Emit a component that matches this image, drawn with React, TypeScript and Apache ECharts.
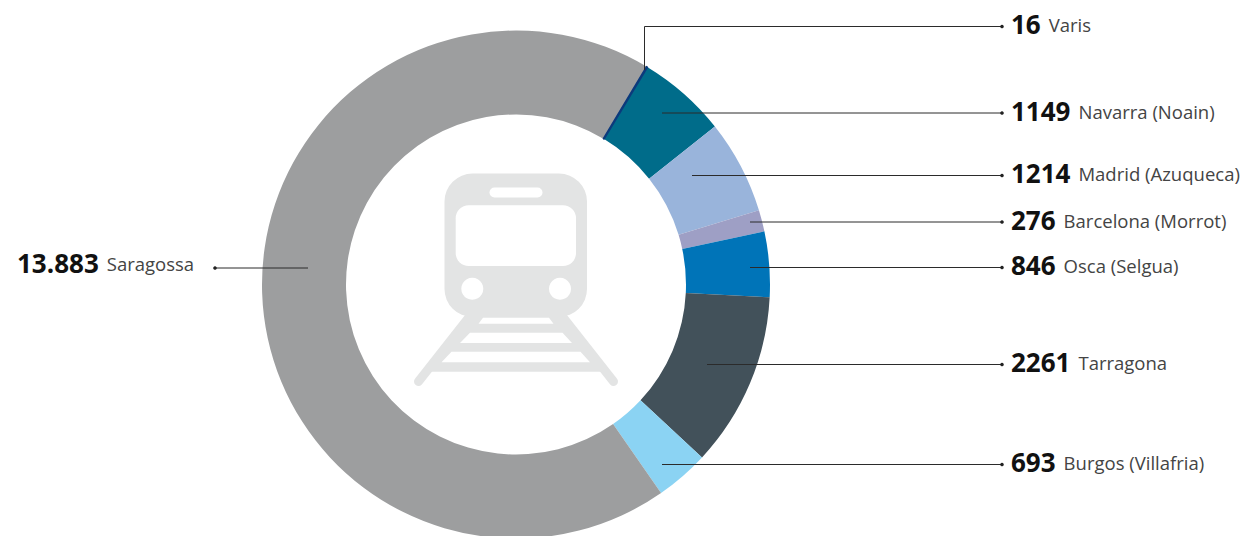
import React, { useEffect, useRef } from "react";
import * as echarts from "echarts";

const names = ["Navarra (Noain)", "Madrid (Azuqueca)", "Barcelona (Morrot)", "Osca (Selgua)", "Tarragona", "Burgos (Villafria)", "Saragossa", "Varis"];
const values = [1149, 1214, 276, 846, 2261, 693, 13883, 16];
const valueLabels = ["1149", "1214", "276", "846", "2261", "693", "13.883", "16"];
const colors = ["#006c8a", "#99b4db", "#9e9fc5", "#0074b8", "#42515a", "#8bd3f3", "#9d9e9f", "#0b3a7c"];

const labelX = [1011, 1011, 1011, 1011, 1011, 1011, 17, 1011];
const labelY = [111, 173, 220, 265, 362, 462, 263, 24];
const leaders: number[][][] = [
  [[662, 113], [1002, 113]],
  [[692, 175.5], [1002, 175.5]],
  [[750, 222], [1002, 222]],
  [[750, 267.5], [1002, 267.5]],
  [[707, 364.5], [1002, 364.5]],
  [[662, 464.5], [1002, 464.5]],
  [[308, 268], [215, 268]],
  [[644.5, 70], [644.5, 26.5], [1002, 26.5]],
];

const GREY = "#e3e4e4";
const FONT = '"Open Sans", "Noto Sans", sans-serif';

export default function App() {
  const ref = useRef<HTMLDivElement>(null);
  useEffect(() => {
    document.body.style.margin = "0";
    const chart = echarts.init(ref.current!, null, { renderer: "svg" });
    const gap = (pts: number[][]) => ({
      type: "polygon",
      silent: true,
      shape: { points: pts },
      style: { fill: "#fff" },
    });
    const rail = (x1: number, x2: number) => ({
      type: "line",
      silent: true,
      shape: { x1, y1: 316, x2, y2: 381.5 },
      style: { stroke: GREY, lineWidth: 9, lineCap: "round" },
    });
    chart.setOption({
      animation: false,
      backgroundColor: "#fff",
      series: [
        {
          type: "pie",
          center: [516, 284.5],
          radius: [170, 254],
          startAngle: 58.8,
          clockwise: true,
          silent: true,
          avoidLabelOverlap: false,
          percentPrecision: 4,
          data: names.map((name, i) => ({
            name,
            value: values[i],
            itemStyle: {
              color: colors[i],
              borderColor: name === "Varis" ? colors[i] : "transparent",
              borderWidth: name === "Varis" ? 1.4 : 0,
            },
          })),
          label: {
            show: true,
            position: "outside",
            fontFamily: FONT,
            formatter: (p: any) => `{v|${valueLabels[p.dataIndex]}}{n|${p.name}}`,
            rich: {
              v: { fontFamily: FONT, fontSize: 26, fontWeight: 700, color: "#111", lineHeight: 32, verticalAlign: "middle" },
              n: { fontFamily: FONT, fontSize: 18.5, color: "#444", lineHeight: 24, verticalAlign: "middle", padding: [0, 0, 0, 8] },
            },
          },
          labelLine: { show: false },
          labelLayout: (p: any) => ({
            x: labelX[p.dataIndex],
            y: labelY[p.dataIndex],
            align: "left",
            verticalAlign: "middle",
          }),
        },
      ],
      graphic: [
        {
          type: "group",
          silent: true,
          z: 10,
          children: [
            { type: "polygon", shape: { points: [[469, 316], [563, 316], [603, 371.7], [429, 371.7]] }, style: { fill: GREY } },
            rail(470, 418.5),
            rail(562, 613.5),
            gap([[483, 317.7], [549, 317.7], [553.5, 323.7], [478.5, 323.7]]),
            gap([[470, 332.7], [562.5, 332.7], [572, 343], [460, 343]]),
            gap([[451.5, 351.7], [580.5, 351.7], [590, 362.3], [441.5, 362.3]]),
            { type: "rect", shape: { x: 444.5, y: 173.5, width: 142.5, height: 143.5, r: 28 }, style: { fill: GREY } },
            { type: "rect", shape: { x: 489.5, y: 187.5, width: 53, height: 10, r: 5 }, style: { fill: "#fff" } },
            { type: "rect", shape: { x: 455.7, y: 205.3, width: 120.3, height: 60.7, r: 13 }, style: { fill: "#fff" } },
            { type: "circle", shape: { cx: 472.3, cy: 288.7, r: 11 }, style: { fill: "#fff" } },
            { type: "circle", shape: { cx: 560, cy: 288.7, r: 11 }, style: { fill: "#fff" } },
          ],
        },
        ...leaders.map((l) => ({
          type: "polyline",
          silent: true,
          z: 11,
          shape: { points: l },
          style: { stroke: "#2b2b2b", lineWidth: 1, fill: "none" },
        })),
        ...leaders.map((l) => ({
          type: "circle",
          silent: true,
          z: 11,
          shape: { cx: l[l.length - 1][0], cy: l[l.length - 1][1], r: 1.8 },
          style: { fill: "#222" },
        })),
      ],
    });
    return () => chart.dispose();
  }, []);
  return <div ref={ref} style={{ position: "absolute", left: 0, top: 0, width: 1246, height: 536 }} />;
}
